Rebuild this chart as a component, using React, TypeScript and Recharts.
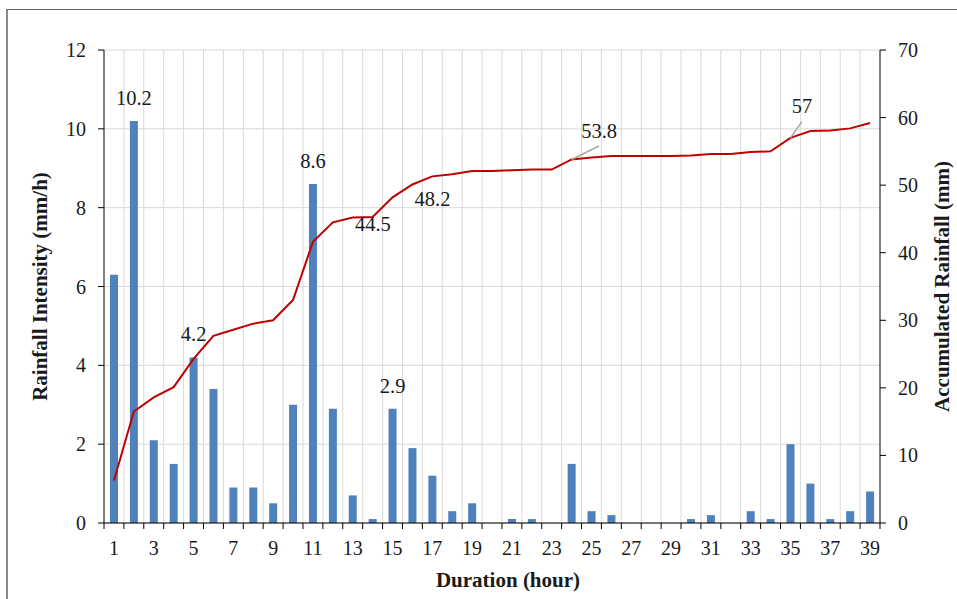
import React from 'react';
import { ComposedChart, Bar, Line, XAxis, YAxis, CartesianGrid, LabelList, Label } from 'recharts';

// ---- data ----
const hours = [1, 2, 3, 4, 5, 6, 7, 8, 9, 10, 11, 12, 13, 14, 15, 16, 17, 18, 19, 20, 21, 22, 23, 24, 25, 26, 27, 28, 29, 30, 31, 32, 33, 34, 35, 36, 37, 38, 39];
const intensity = [6.3, 10.2, 2.1, 1.5, 4.2, 3.4, 0.9, 0.9, 0.5, 3.0, 8.6, 2.9, 0.7, 0.1, 2.9, 1.9, 1.2, 0.3, 0.5, 0, 0.1, 0.1, 0, 1.5, 0.3, 0.2, 0, 0, 0, 0.1, 0.2, 0, 0.3, 0.1, 2.0, 1.0, 0.1, 0.3, 0.8];
const accumulated = [6.3, 16.5, 18.6, 20.1, 24.3, 27.7, 28.6, 29.5, 30.0, 33.0, 41.6, 44.5, 45.2, 45.3, 48.2, 50.1, 51.3, 51.6, 52.1, 52.1, 52.2, 52.3, 52.3, 53.8, 54.1, 54.3, 54.3, 54.3, 54.3, 54.4, 54.6, 54.6, 54.9, 55.0, 57.0, 58.0, 58.1, 58.4, 59.2];
const leftTicks = [0, 2, 4, 6, 8, 10, 12];
const rightTicks = [0, 10, 20, 30, 40, 50, 60, 70];
const barLabelHours = [2, 5, 11, 15, 35];
const lineLabelHours = [12, 15, 24, 35];

const data = hours.map((h, i) => ({ hour: h, intensity: intensity[i], accumulated: accumulated[i] }));

// ---- layout / style ----
const W = 957;
const H = 599;
const MARGIN = { top: 50, right: 0, bottom: 0, left: 0 };
const LEFT_W = 104;
const RIGHT_W = 77;
const X_H = 76;
const PLOT_W = W - LEFT_W - RIGHT_W;
const HALF_BAND = PLOT_W / hours.length / 2;
const FONT = '"Liberation Serif", "Times New Roman", serif';
const TEXT = '#1a1a1a';
const TICK_FS = 20;
const DATA_FS = 20.5;
const TITLE_FS = 21;

const textStyle = (size: number, bold = false): React.CSSProperties => ({
  fontFamily: FONT,
  fontSize: size,
  fontWeight: bold ? 'bold' : 'normal',
  fill: TEXT,
});

const lineLabelStyle: Record<number, { dx: number; dy: number; leader?: [number, number] }> = {
  12: { dx: 40, dy: 2 },
  15: { dx: 40, dy: 2 },
  24: { dx: 27.5, dy: -28, leader: [27.5, -13.5] },
  35: { dx: 11.5, dy: -31.5, leader: [11.6, -16.2] },
};

const XTick = (props: any) => {
  const { x, y, payload, index } = props;
  const hour = payload.value;
  return (
    <g>
      <line x1={x - HALF_BAND} x2={x - HALF_BAND} y1={y} y2={y + 6} stroke="#000" strokeWidth={1} />
      {index === hours.length - 1 && (
        <line x1={x + HALF_BAND} x2={x + HALF_BAND} y1={y} y2={y + 6} stroke="#000" strokeWidth={1} />
      )}
      {hour % 2 === 1 && (
        <text x={x} y={y + 25} textAnchor="middle" dominantBaseline="central" style={textStyle(TICK_FS)}>
          {hour}
        </text>
      )}
    </g>
  );
};

const YTick = (props: any) => {
  const { x, y, payload, textAnchor } = props;
  return (
    <text x={x} y={y} textAnchor={textAnchor} dominantBaseline="central" style={textStyle(TICK_FS)}>
      {payload.value}
    </text>
  );
};

const BarLabel = (props: any) => {
  const { index, value } = props;
  const vb = props.viewBox || props;
  if (!barLabelHours.includes(hours[index])) return null;
  const cx = vb.x + vb.width / 2;
  return (
    <text x={cx} y={vb.y - 23} textAnchor="middle" dominantBaseline="central" style={textStyle(DATA_FS)}>
      {String(value)}
    </text>
  );
};

const LineLabel = (props: any) => {
  const { index, value } = props;
  const hour = hours[index];
  if (!lineLabelHours.includes(hour)) return null;
  const px = props.x ?? props.viewBox?.x;
  const py = props.y ?? props.viewBox?.y;
  const st = lineLabelStyle[hour];
  return (
    <g>
      {st.leader && (
        <line x1={px} y1={py} x2={px + st.leader[0]} y2={py + st.leader[1]} stroke="#a6a6a6" strokeWidth={1.5} />
      )}
      <text x={px + st.dx} y={py + st.dy} textAnchor="middle" dominantBaseline="central" style={textStyle(DATA_FS)}>
        {String(value)}
      </text>
    </g>
  );
};

export default function App() {
  return (
    <div style={{ position: 'relative', width: W, height: H, overflow: 'hidden', background: '#fff' }}>
      <style>{'body{margin:0;}'}</style>
      <div
        style={{
          position: 'absolute',
          left: 6,
          top: 9,
          width: 2000,
          height: 2000,
          borderLeft: '2px solid #8a8a8a',
          borderTop: '1px solid #666',
          boxSizing: 'border-box',
        }}
      />
      <div style={{ position: 'absolute', left: 0, top: 0 }}>
        <ComposedChart width={W} height={H} data={data} margin={MARGIN}>
          <CartesianGrid
            yAxisId="left"
            stroke="#d9d9d9"
            strokeWidth={1}
            verticalCoordinatesGenerator={(p: any) => {
              const off = p && p.offset ? p.offset : { left: LEFT_W, width: PLOT_W };
              const bw = off.width / hours.length;
              return hours.slice(1).map((_, i) => off.left + (i + 1) * bw);
            }}
          />
          <XAxis
            dataKey="hour"
            height={X_H}
            interval={0}
            tickLine={false}
            tickSize={0}
            tickMargin={0}
            axisLine={{ stroke: '#000', strokeWidth: 1 }}
            tick={<XTick />}
          >
            <Label value="Duration (hour)" position="center" dx={16} dy={19} style={textStyle(TITLE_FS, true)} />
          </XAxis>
          <YAxis
            yAxisId="left"
            width={LEFT_W}
            domain={[0, 12]}
            ticks={leftTicks}
            interval={0}
            tickSize={6}
            tickMargin={12}
            tick={<YTick />}
            axisLine={{ stroke: '#000', strokeWidth: 1 }}
            tickLine={{ stroke: '#000', strokeWidth: 1 }}
          >
            <Label value="Rainfall Intensity (mm/h)" angle={-90} position="center" dx={-12} style={textStyle(TITLE_FS, true)} />
          </YAxis>
          <YAxis
            yAxisId="right"
            orientation="right"
            width={RIGHT_W}
            domain={[0, 70]}
            ticks={rightTicks}
            interval={0}
            tickSize={6}
            tickMargin={12}
            tick={<YTick />}
            axisLine={{ stroke: '#000', strokeWidth: 1 }}
            tickLine={{ stroke: '#000', strokeWidth: 1 }}
          >
            <Label value="Accumulated Rainfall (mm)" angle={-90} position="center" dx={23.5} style={textStyle(TITLE_FS, true)} />
          </YAxis>
          <Bar yAxisId="left" dataKey="intensity" fill="#4f81bd" barSize={8} isAnimationActive={false}>
            <LabelList dataKey="intensity" content={<BarLabel />} />
          </Bar>
          <Line
            yAxisId="right"
            dataKey="accumulated"
            type="linear"
            stroke="#c00000"
            strokeWidth={2}
            dot={false}
            activeDot={false}
            isAnimationActive={false}
          >
            <LabelList dataKey="accumulated" content={<LineLabel />} />
          </Line>
        </ComposedChart>
      </div>
    </div>
  );
}
